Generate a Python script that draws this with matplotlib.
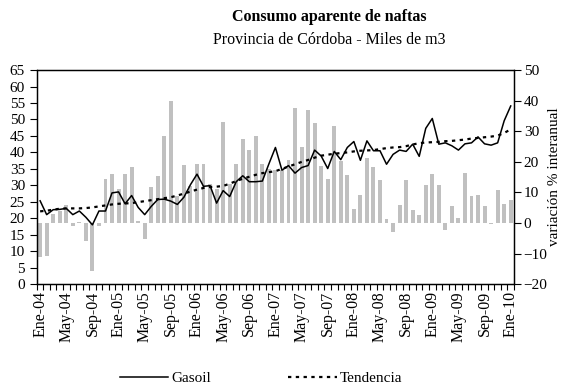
import numpy as np
import matplotlib
matplotlib.use("Agg")
import matplotlib.pyplot as plt

plt.rcParams["font.family"] = ["Liberation Serif", "DejaVu Serif"]

meses = ["Ene", "Feb", "Mar", "Abr", "May", "Jun", "Jul", "Ago", "Sep", "Oct", "Nov", "Dic"]
periodos = [f"{meses[k % 12]}-{4 + k // 12:02d}" for k in range(73)]

# consumo mensual de gasoil, miles de m3 (ene-04 a ene-10)
gasoil = [25.3, 21.1, 22.6, 22.7, 23.0, 21.1, 22.2, 20.3, 18.0, 22.2, 22.2, 27.7,
          28.0, 24.4, 26.9, 23.3, 21.1, 23.6, 25.7, 25.8, 25.2, 24.2, 26.4, 30.2,
          33.4, 29.7, 29.9, 24.6, 28.4, 26.6, 31.1, 32.9, 31.1, 31.1, 31.3, 36.5,
          41.5, 34.6, 36.0, 33.7, 35.4, 36.0, 40.7, 38.9, 35.1, 40.3, 37.8, 41.5,
          43.3, 37.6, 43.5, 40.5, 40.5, 36.4, 39.4, 40.7, 40.3, 42.5, 38.8, 47.3,
          50.3, 42.5, 42.9, 42.0, 40.7, 42.6, 42.9, 44.7, 42.6, 42.2, 42.9, 49.6,
          54.1]

# tendencia del consumo
tendencia = [22.1, 22.3, 22.6, 22.9, 23.0, 23.0, 23.0, 23.1, 23.3, 23.6, 23.9, 24.2,
             24.4, 24.5, 24.6, 24.9, 25.2, 25.5, 25.8, 26.1, 26.4, 26.9, 27.5, 28.1,
             28.7, 29.2, 29.5, 29.6, 29.8, 30.5, 31.3, 32.0, 32.6, 33.2, 33.7, 34.0,
             34.3, 35.0, 35.7, 36.4, 37.1, 37.7, 38.4, 39.0, 39.3, 39.6, 39.8, 40.0,
             40.3, 40.5, 40.6, 40.7, 41.0, 41.3, 41.5, 41.6, 41.9, 42.4, 42.8, 43.0,
             43.1, 43.2, 43.4, 43.5, 43.7, 43.9, 44.2, 44.4, 44.6, 44.8, 45.1, 45.9,
             47.0]

# variacion % interanual
variacion = [-11.2, -10.9, 2.9, 3.9, 5.8, -1.0, 0.2, -5.9, -15.6, -1.0, 14.5, 16.1,
             11.1, 16.1, 18.4, 0.6, -5.4, 11.6, 15.4, 28.3, 39.8, 8.8, 19.0, 12.0,
             19.4, 19.4, 12.7, 11.2, 32.9, 12.8, 19.4, 27.3, 23.8, 28.3, 19.4, 17.7,
             17.4, 17.2, 20.7, 37.5, 24.7, 36.9, 32.6, 18.7, 14.5, 31.6, 20.4, 15.7,
             4.5, 9.1, 21.4, 18.4, 14.1, 1.2, -3.0, 5.8, 14.1, 4.2, 2.5, 12.4,
             16.1, 12.4, -2.3, 5.6, 1.7, 16.4, 8.8, 9.1, 5.6, -0.4, 10.8, 6.2,
             7.5]

x = np.arange(len(periodos))

fig = plt.figure(figsize=(5.67, 3.85), dpi=100)
ax = fig.add_axes([0.065, 0.262, 0.8415, 0.556])
ax2 = ax.twinx()

ax2.bar(x, variacion, width=0.6, color="#c0c0c0", linewidth=0)
ax2.set_ylim(-20, 50)
ax2.set_yticks(range(-20, 51, 10))
ax2.set_ylabel("variación % interanual", fontsize=11, labelpad=0)

ax.set_zorder(ax2.get_zorder() + 1)
ax.patch.set_visible(False)
ax.plot(x, gasoil, color="black", linewidth=1.1, label="Gasoil")
ax.plot(x, tendencia, color="black", linewidth=1.6, linestyle=(0, (1.5, 2)), label="Tendencia")
ax.set_ylim(0, 65)
ax.set_yticks(range(0, 66, 5))
ax.set_xlim(-0.5, len(x) - 0.5)

ax.set_xticks(x[::4])
ax.set_xticklabels(periodos[::4], rotation=90)
ax.set_xticks(np.arange(-0.5, len(x), 1), minor=True)
ax.tick_params(axis="x", which="major", length=0, pad=5, labelsize=11.5)
ax.tick_params(axis="x", which="minor", length=4, width=0.8, direction="out")
ax.tick_params(axis="y", length=5, width=0.8, direction="out", labelsize=11)
ax2.tick_params(axis="y", length=5, width=0.8, direction="out", pad=2, labelsize=11)

for a in (ax, ax2):
    for s in a.spines.values():
        s.set_linewidth(0.9)

fig.text(0.58, 0.955, "Consumo aparente de naftas", ha="center", va="center",
         fontsize=11.5, fontweight="bold")
fig.text(0.58, 0.895, "Provincia de Córdoba - Miles de m3", ha="center", va="center",
         fontsize=11.5)

fig.legend(loc="center", bbox_to_anchor=(0.46, 0.018), ncol=2, frameon=False,
           fontsize=11, handlelength=3.2, columnspacing=5, handletextpad=0.2)

fig.savefig("out.png", dpi=100)
